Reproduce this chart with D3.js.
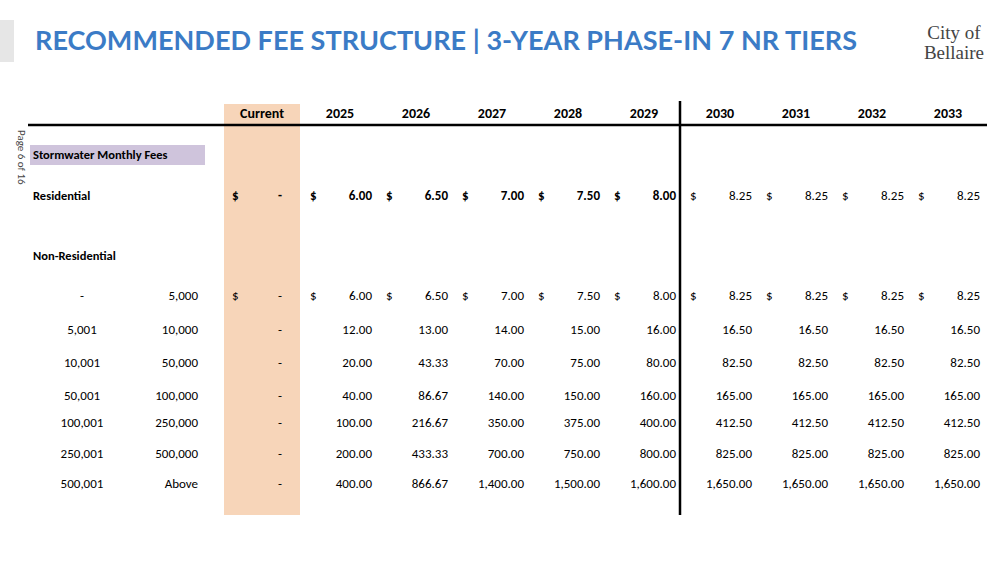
<!DOCTYPE html>
<html><head><meta charset="utf-8">
<script src="https://cdn.jsdelivr.net/npm/d3@7"></script>
<style>body{margin:0;background:#fff}</style>
</head><body>
<svg id="c" width="1000" height="585"></svg>
<script>
var years = ["2025","2026","2027","2028","2029","2030","2031","2032","2033"];
var residential = [6.00,6.50,7.00,7.50,8.00,8.25,8.25,8.25,8.25];
var tierLow = ["-","5,001","10,001","50,001","100,001","250,001","500,001"];
var tierHigh = ["5,000","10,000","50,000","100,000","250,000","500,000","Above"];
var tierFees = [
  [6.00,6.50,7.00,7.50,8.00,8.25,8.25,8.25,8.25],
  [12.00,13.00,14.00,15.00,16.00,16.50,16.50,16.50,16.50],
  [20.00,43.33,70.00,75.00,80.00,82.50,82.50,82.50,82.50],
  [40.00,86.67,140.00,150.00,160.00,165.00,165.00,165.00,165.00],
  [100.00,216.67,350.00,375.00,400.00,412.50,412.50,412.50,412.50],
  [200.00,433.33,700.00,750.00,800.00,825.00,825.00,825.00,825.00],
  [400.00,866.67,1400.00,1500.00,1600.00,1650.00,1650.00,1650.00,1650.00]
];
var tierRowY = [297,331,364,397,424,455,485];

var svg = d3.select("#c");
var font = "Calibri, Carlito, 'Open Sans', sans-serif";
var x = d3.scaleBand().domain(years).range([302,986]);
var fmt = d3.format(",.2f");

svg.append("rect").attr("x",0).attr("y",20).attr("width",14).attr("height",42).attr("fill","#e6e6e6");
svg.append("text").attr("x",35).attr("y",50).attr("fill","#3b7bc6")
  .attr("font-family","Lato, sans-serif").attr("font-weight","bold").attr("font-size",27)
  .attr("textLength",822).attr("lengthAdjust","spacing")
  .text("RECOMMENDED FEE STRUCTURE | 3-YEAR PHASE-IN 7 NR TIERS");
svg.append("text").attr("x",954).attr("y",39).attr("text-anchor","middle").attr("font-family","'Liberation Serif', serif").attr("font-size",19).attr("fill","#444").text("City of");
svg.append("text").attr("x",954).attr("y",59).attr("text-anchor","middle").attr("font-family","'Liberation Serif', serif").attr("font-size",19).attr("fill","#444").text("Bellaire");

// current column band, purple label box
svg.append("rect").attr("x",224).attr("y",104).attr("width",76).attr("height",411).attr("fill","#f7d5b9");
svg.append("rect").attr("x",30).attr("y",145).attr("width",175).attr("height",20).attr("fill","#cfc4dc");

svg.append("line").attr("x1",28).attr("x2",987).attr("y1",125).attr("y2",125).attr("stroke","#000").attr("stroke-width",2.5);
svg.append("line").attr("x1",680).attr("x2",680).attr("y1",101).attr("y2",515).attr("stroke","#000").attr("stroke-width",2.5);

svg.append("text").attr("transform","translate(18,130) rotate(90)").attr("font-family",font).attr("font-size",11).attr("fill","#444").text("Page 6 of 16");

function txt(xp,yp,s,anchor,bold,size){
  svg.append("text").attr("x",xp).attr("y",yp).attr("text-anchor",anchor||"start")
    .attr("font-family",font).attr("font-size",size||13).attr("font-weight",bold?"bold":"normal")
    .attr("dominant-baseline","middle").attr("fill","#000").text(s);
}

txt(262,115,"Current","middle",true,14);
years.forEach(function(y){ txt(x(y)+x.bandwidth()/2,115,y,"middle",true,14); });

txt(33,156,"Stormwater Monthly Fees","start",true,12.5);
txt(33,197,"Residential","start",true,12.5);
txt(33,257,"Non-Residential","start",true,12.5);

txt(232,197,"$","start",true); txt(280,197,"-","middle",true);
years.forEach(function(y,i){
  var b = i<5;
  txt(x(y)+8,197,"$","start",b);
  txt(x(y)+x.bandwidth()-6,197,fmt(residential[i]),"end",b);
});

tierLow.forEach(function(lo,r){
  var yy = tierRowY[r];
  txt(82,yy,lo,"middle",false);
  txt(198,yy,tierHigh[r],"end",false);
  if(r===0){ txt(232,yy,"$","start",false); }
  txt(280,yy,"-","middle",false);
  years.forEach(function(y,i){
    if(r===0) txt(x(y)+8,yy,"$","start",false);
    txt(x(y)+x.bandwidth()-6,yy,fmt(tierFees[r][i]),"end",false);
  });
});
</script>
</body></html>
